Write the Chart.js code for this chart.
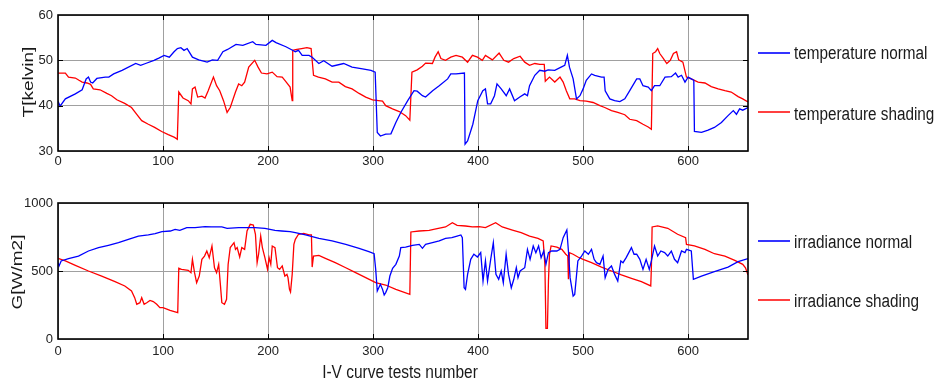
<!DOCTYPE html>
<html>
<head>
<meta charset="utf-8">
<script src="https://cdn.jsdelivr.net/npm/chart.js@4/dist/chart.umd.min.js"></script>
<style>
  html, body { margin: 0; padding: 0; background: #fff; }
  #wrap { position: relative; width: 936px; height: 383px; overflow: hidden; }
  canvas { position: absolute; left: 0; }
  .txt { position: absolute; font-family: 'Liberation Sans', Arial, sans-serif; color: #1a1a1a; white-space: nowrap; line-height: 1; }
  .leg { font-size: 18px; transform: scaleX(0.85); transform-origin: left center; }
  .swatch { position: absolute; height: 0; width: 32px; border-top: 2px solid; }
  .ytitle { font-size: 19px; transform: translate(-50%, -50%) rotate(-90deg) scaleY(0.8); }
  .xtitle { font-size: 18px; transform: translate(-50%, -50%) scaleX(0.86); }
</style>
</head>
<body>
<div id="wrap">
  <canvas id="tempChart" width="936" height="185" style="top:0"></canvas>
  <canvas id="irrChart" width="936" height="190" style="top:190px"></canvas>

  <div class="txt ytitle" style="left:28px; top:82px">T[kelvin]</div>
  <div class="txt ytitle" style="left:17px; top:272px">G[W/m2]</div>
  <div class="txt xtitle" style="left:400px; top:372px">I-V curve tests number</div>

  <div class="swatch" style="left:758px; top:52px; border-color:#3434ff"></div>
  <div class="txt leg" style="left:794px; top:44px">temperature normal</div>
  <div class="swatch" style="left:758px; top:111px; border-color:#ff4040"></div>
  <div class="txt leg" style="left:794px; top:105px">temperature shading</div>
  <div class="swatch" style="left:758px; top:240px; border-color:#3434ff"></div>
  <div class="txt leg" style="left:794px; top:233px">irradiance normal</div>
  <div class="swatch" style="left:758px; top:299px; border-color:#ff4040"></div>
  <div class="txt leg" style="left:794px; top:292px">irradiance shading</div>
</div>

<script>
// Test index (I-V curve test number) and measured values for each series.
const tempNormalX = [0, 2, 7, 16.5, 23, 26.8, 29, 31, 33, 37, 45, 48.4, 53, 61, 74, 78.7, 83.4, 91.4, 96, 101, 106, 110.5, 113.7, 117, 120, 123, 128, 134, 142, 147, 152, 157, 161.5, 169.5, 176, 185.4, 188.5, 198, 204, 207.6, 217, 222, 226, 229, 232.5, 239, 242, 248.4, 253, 261, 272, 280, 290, 298, 302, 304, 307, 312, 317, 321.7, 326.4, 333, 339, 342, 347, 350, 356.7, 363, 371, 374, 379, 387, 387.6, 390, 395, 399.7, 404.5, 407, 409, 412, 415.6, 418, 422, 426.8, 430, 434.7, 439.7, 444.4, 447, 449, 454, 458.7, 463.5, 466.7, 473, 479, 482.5, 485, 487, 490.5, 493.7, 497, 500, 503, 508, 511, 517.5, 520, 521, 525.4, 530, 535, 539.7, 544.4, 551, 554, 557, 562, 565, 568, 573, 578, 584, 588, 590.5, 593.7, 597, 600, 603, 605.4, 606, 612.7, 619, 625, 631.7, 638, 643, 646, 649, 652, 657];
const tempNormalY = [41, 39.9, 41.5, 42.6, 43.5, 45.9, 46.3, 45.2, 45, 46, 46.3, 46.3, 47, 47.8, 49.3, 48.9, 49.3, 50, 50.5, 51.1, 50.7, 51.9, 52.6, 52.8, 52.2, 52.6, 50.7, 50.1, 49.6, 50.1, 50, 51.9, 52.4, 53.5, 53.3, 54.1, 53.5, 53.3, 54.4, 53.9, 53, 52.4, 51.9, 52.2, 51.1, 51.1, 50.7, 49.3, 49.9, 48.7, 49.3, 48.5, 48.1, 47.8, 47.4, 34.1, 33.3, 33.7, 33.8, 36.3, 38.5, 41.1, 43.3, 43.2, 42.2, 41.9, 43.3, 44.4, 45.9, 47, 47, 47.2, 31.5, 32.2, 35.9, 41.1, 43.3, 43.7, 40.4, 40.4, 42.2, 44.8, 43.7, 42.2, 43.7, 41.1, 41.9, 42.6, 42.2, 44.4, 46.7, 47.8, 47.6, 47.9, 47.8, 48.5, 48.9, 51.1, 48.5, 45.9, 41.5, 42.2, 43.7, 45.6, 47, 46.7, 46.3, 46.3, 43.3, 41.5, 41.1, 40.9, 41.5, 43.3, 45.9, 45.9, 44.4, 44.1, 43.3, 44.4, 44.4, 46.3, 46.4, 47.2, 46.3, 46.7, 45.2, 46.3, 45.9, 45.6, 34.3, 34.1, 34.6, 35.2, 36.3, 37.8, 38.9, 38.1, 39.3, 39, 39.6];

const tempShadingX = [0, 7, 10, 16.5, 20, 23, 27.6, 31, 33.6, 40, 46.5, 51, 56, 63.5, 70, 75, 79.7, 86, 92, 98.7, 105, 111, 113.6, 115, 119, 124, 126.6, 128, 130.5, 133, 137, 140, 143, 148, 151, 154, 157.6, 161, 164, 169, 172, 175, 177.7, 181.6, 187.3, 190.5, 193.7, 199, 204, 208.6, 213.5, 216.6, 221, 223, 223.5, 227.5, 232, 237, 241, 243.3, 248, 254.6, 261, 267.4, 273.6, 280, 286.7, 293, 299.5, 309, 312, 318.5, 325, 331, 335, 337, 342, 347, 350, 356.5, 359, 362, 364.6, 369, 374, 379, 385, 390, 394.6, 399.4, 404, 407, 413.6, 420, 424.5, 429, 434, 440, 444.4, 449, 454, 458.7, 463, 464, 468, 473, 478, 481, 484, 487.3, 492, 497, 503, 509.5, 516, 520.6, 527, 533, 539.7, 544.4, 551, 557, 562, 565, 566.3, 569, 571, 573, 576.5, 579.7, 583, 586, 589, 591, 595, 598.4, 603, 609.5, 616, 622, 628.6, 635, 641, 647.6, 652, 657];
const tempShadingY = [47.2, 47.2, 46.3, 46.1, 45.6, 45.2, 45, 44.7, 43.7, 43.5, 42.7, 42.2, 41.3, 40.5, 39.6, 38.1, 36.7, 35.9, 35.2, 34.3, 33.6, 33, 32.6, 43, 41.7, 41.1, 40.4, 43.7, 44.1, 41.9, 42.1, 41.7, 43.3, 46.3, 44.4, 43.3, 41.1, 38.5, 39.6, 43, 44.8, 44.4, 45.2, 48.5, 50, 48.5, 47.2, 47, 47.4, 46.4, 46.3, 45.4, 44.1, 41.1, 52.2, 52.4, 52.6, 52.8, 52.6, 46.7, 46.3, 45.9, 45.2, 45.2, 44.2, 43.7, 42.7, 41.9, 41.3, 41, 40, 39.3, 38.7, 37.8, 36.8, 47.4, 47.9, 48.7, 49.4, 49.3, 50.7, 51.9, 50.4, 50, 50.7, 51.1, 50.7, 49.6, 51.1, 50.7, 50, 51.1, 50.1, 51.6, 50, 49.6, 50.4, 50.9, 49.6, 48.9, 49.3, 49.1, 49.1, 45.4, 46.3, 45.2, 46.3, 45.2, 43.3, 41.5, 41.5, 41.1, 41, 40.7, 40, 39.6, 38.9, 38.5, 38, 37, 36.7, 35.9, 35.3, 34.8, 51.5, 51.9, 52.6, 51.5, 50.4, 49.3, 50, 51.5, 51.9, 50.1, 49.6, 46.3, 45.9, 45.2, 45, 44.2, 43.7, 43.3, 43, 42, 41.5, 40.8];

const irrNormalX = [0, 1, 3, 10, 19.5, 29, 38.6, 48, 57.6, 67, 76.6, 86, 92.5, 99, 107, 111.5, 116, 122.6, 130.5, 140, 146, 156, 161, 172, 187.5, 197, 206.6, 213, 221, 226, 235.7, 248.4, 261, 274, 286.7, 296, 301, 302.5, 304, 307, 309, 310.6, 312, 314, 316, 318.6, 321.7, 325, 326.4, 331, 337.6, 344, 347, 350, 356.5, 363, 369, 375, 380, 383.6, 385, 386.7, 388, 390, 393, 396, 399.4, 402.5, 404.7, 407, 409, 412, 414.5, 417, 419.6, 422, 424, 426.7, 429, 431.6, 434, 436.4, 438, 440, 444.4, 447, 449.5, 452.5, 455, 457.6, 460, 462.5, 464.6, 467, 470, 475, 478, 481, 484.5, 486, 487.6, 490.5, 492, 495, 498.5, 501.6, 505, 508, 510.5, 512.7, 516, 519, 521, 523.8, 527, 530, 533, 535.9, 538, 541, 546, 548.5, 551, 554, 557, 560, 563, 565, 568, 571, 574, 577.6, 580.6, 584, 587, 590, 593.7, 597, 598.4, 603, 605, 612.7, 625, 638, 647.6, 657];
const irrNormalY = [561, 537, 574, 591, 610, 647, 672, 689, 708, 733, 757, 765, 774, 789, 794, 806, 799, 819, 819, 826, 824, 824, 814, 819, 819, 814, 799, 794, 789, 782, 765, 740, 721, 696, 667, 642, 627, 512, 353, 402, 365, 324, 341, 377, 463, 520, 549, 610, 672, 676, 689, 696, 667, 696, 708, 721, 740, 745, 757, 765, 745, 377, 365, 475, 586, 623, 603, 635, 426, 574, 426, 586, 708, 475, 439, 500, 414, 623, 475, 377, 439, 524, 451, 500, 524, 659, 586, 684, 635, 684, 598, 647, 549, 635, 647, 647, 659, 745, 801, 647, 451, 316, 328, 574, 610, 647, 623, 659, 586, 561, 549, 610, 451, 512, 537, 475, 426, 574, 561, 598, 672, 623, 623, 586, 512, 586, 512, 574, 684, 610, 647, 635, 610, 647, 586, 561, 647, 635, 659, 647, 439, 463, 495, 529, 569, 591];

const irrShadingX = [0, 7, 16.5, 29, 41.6, 54.3, 63.6, 70, 73, 75, 78, 79.7, 82, 84.5, 87.6, 90.7, 94, 97, 100, 106.7, 114, 115, 117.6, 124, 126.6, 128, 130, 132, 134.5, 137, 139.5, 141.7, 144, 146.6, 149, 151, 153, 154.6, 156, 158.5, 160.5, 162, 164, 167.6, 169, 170.6, 173, 175, 177.7, 180, 183, 186, 188, 189.6, 191, 193, 194.6, 197, 199.5, 201, 202.6, 204, 206.6, 209, 211, 213.5, 216, 218, 219, 220.4, 221.4, 223, 224.6, 226, 229, 234, 239, 241.3, 242, 243.3, 248.4, 254.6, 264, 274, 283.4, 293, 302.5, 312, 321.7, 335, 336, 344, 353.4, 361, 369, 375.5, 380, 388, 394.6, 401, 407, 416.7, 423, 432.7, 441, 449, 457, 462, 463.6, 464.6, 466, 467, 468, 469.5, 475, 479.7, 483.5, 485.4, 486, 487, 490.5, 495, 500, 508, 517.5, 527, 536.5, 546, 555.5, 564.4, 565, 565.7, 571, 580.6, 590, 597.6, 598.4, 606, 616, 625, 635, 644.4, 652, 654.6, 657];
const irrShadingY = [593, 574, 542, 500, 463, 422, 390, 353, 304, 255, 267, 304, 255, 267, 284, 275, 255, 230, 230, 211, 194, 520, 512, 505, 488, 586, 488, 414, 463, 586, 610, 647, 598, 684, 524, 488, 549, 402, 267, 255, 292, 549, 672, 708, 659, 672, 603, 672, 659, 794, 843, 838, 770, 561, 623, 757, 672, 598, 512, 598, 549, 684, 672, 524, 512, 537, 463, 475, 451, 365, 346, 475, 696, 733, 770, 777, 765, 765, 529, 610, 615, 593, 561, 524, 488, 451, 414, 397, 365, 328, 787, 794, 799, 811, 824, 855, 836, 831, 824, 826, 819, 855, 824, 801, 782, 757, 740, 721, 549, 78, 78, 426, 623, 684, 676, 659, 623, 610, 439, 635, 623, 603, 586, 561, 529, 500, 471, 446, 422, 390, 524, 824, 831, 814, 770, 745, 696, 684, 659, 627, 610, 578, 549, 524, 471];

// Axis limits and tick spacing
const xMax = 657;
const xStep = 100;
const tempRange = [30, 60];
const tempStep = 10;
const irrRange = [0, 1000];
const irrStep = 500;

const BLUE = '#0000ff';
const RED = '#ff0000';
const tickFont = { family: "'Liberation Sans Narrow', 'Arial Narrow', 'Liberation Sans', Arial, sans-serif", size: 13 };
const plainNumber = v => String(v);

function pairs(xs, ys) {
  return xs.map((x, i) => ({ x: x, y: ys[i] }));
}

// Box around the plot area with short inward tick marks on all four sides
const framePlugin = {
  id: 'frame',
  afterDatasetsDraw(chart) {
    const { ctx, chartArea: a, scales } = chart;
    ctx.save();
    ctx.strokeStyle = '#000';
    ctx.lineWidth = 1;
    ctx.beginPath();
    scales.x.ticks.forEach(t => {
      const px = Math.round(scales.x.getPixelForValue(t.value)) + 0.5;
      if (px <= a.left + 2 || px >= a.right - 2) return;
      ctx.moveTo(px, a.top); ctx.lineTo(px, a.top + 5);
      ctx.moveTo(px, a.bottom); ctx.lineTo(px, a.bottom - 5);
    });
    scales.y.ticks.forEach(t => {
      const py = Math.round(scales.y.getPixelForValue(t.value)) + 0.5;
      if (py <= a.top + 2 || py >= a.bottom - 2) return;
      ctx.moveTo(a.left, py); ctx.lineTo(a.left + 5, py);
      ctx.moveTo(a.right, py); ctx.lineTo(a.right - 5, py);
    });
    ctx.stroke();
    ctx.lineWidth = 1.6;
    ctx.strokeRect(a.left, a.top, a.right - a.left, a.bottom - a.top);
    ctx.restore();
  }
};

function makeChart(id, series, yRange, yStep, padTop, xAxisHeight, xLabelPad) {
  return new Chart(document.getElementById(id), {
    type: 'line',
    data: {
      datasets: series.map(s => ({
        data: pairs(s.x, s.y),
        borderColor: s.color,
        borderWidth: 1.3,
        pointRadius: 0,
        tension: 0,
        fill: false
      }))
    },
    options: {
      responsive: false,
      animation: false,
      devicePixelRatio: 1,
      layout: { padding: { left: 0, right: 188, top: padTop, bottom: 0 } },
      plugins: { legend: { display: false }, tooltip: { enabled: false } },
      scales: {
        x: {
          type: 'linear',
          min: 0,
          max: xMax,
          ticks: { stepSize: xStep, includeBounds: false, maxRotation: 0, padding: xLabelPad, color: '#222', font: tickFont, callback: plainNumber },
          grid: { color: '#a0a0a0', lineWidth: 1, drawTicks: false },
          border: { display: false },
          afterFit: s => { s.height = xAxisHeight; }
        },
        y: {
          min: yRange[0],
          max: yRange[1],
          ticks: { stepSize: yStep, padding: 5, color: '#222', font: tickFont, callback: plainNumber },
          grid: { color: '#a0a0a0', lineWidth: 1, drawTicks: false },
          border: { display: false },
          afterFit: s => { s.width = 58; }
        }
      }
    },
    plugins: [framePlugin]
  });
}

makeChart('tempChart', [
  { x: tempNormalX, y: tempNormalY, color: BLUE },
  { x: tempShadingX, y: tempShadingY, color: RED }
], tempRange, tempStep, 15, 34, 3);

makeChart('irrChart', [
  { x: irrNormalX, y: irrNormalY, color: BLUE },
  { x: irrShadingX, y: irrShadingY, color: RED }
], irrRange, irrStep, 13, 41, 5);
</script>
</body>
</html>
